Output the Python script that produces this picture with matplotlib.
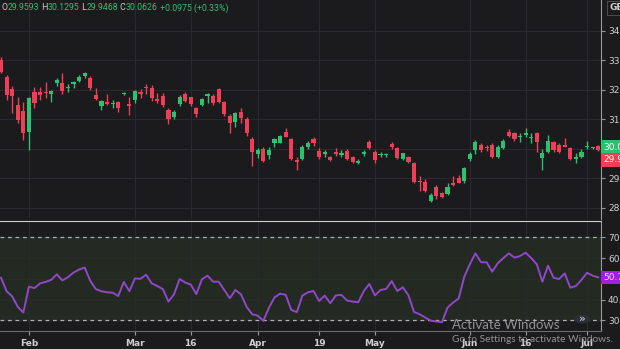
import matplotlib.pyplot as plt
from matplotlib.patches import Circle

BG = "#1b1b1e"
GRID = "#2a2a2e"
UP = "#2fbf71"
DOWN = "#ef3e55"
TXT = "#cfcfcf"

opens = [33.02, 32.44, 32.03, 31.49, 31.28, 30.57, 31.93, 31.93, 31.93, 31.86,
         32.23, 32.23, 32.06, 32.20, 32.30, 32.47, 32.40, 31.83, 31.45, 31.59,
         31.52, 31.59, 31.86, 31.52, 31.66, 31.93, 32.10, 32.06, 31.69, 31.79,
         31.32, 31.08, 31.52, 31.86, 31.76, 31.39, 31.49, 31.79, 31.79, 32.03,
         31.59, 31.11, 30.91, 31.25, 31.01, 30.33, 29.82, 29.99, 29.79, 30.20,
         30.20, 30.57, 30.33, 29.62, 29.65, 30.06, 30.33, 29.93, 29.82, 29.72,
         29.89, 29.79, 29.93, 29.72, 29.52, 29.82, 30.23, 29.89, 29.79, 29.79,
         30.16, 30.03, 29.65, 29.72, 29.52, 28.92, 28.87, 28.23, 28.70, 28.50,
         28.47, 28.84, 29.01, 28.91, 29.65, 29.96, 30.13, 30.06, 30.13, 29.72,
         30.03, 30.57, 30.54, 30.40, 30.47, 30.37, 30.54, 29.69, 29.89, 30.23,
         30.13, 30.13, 30.03, 29.65, 29.72, 30.06, 30.03, 30.09]
highs = [33.10, 32.51, 32.13, 31.76, 31.59, 31.76, 32.10, 32.10, 32.27, 32.00,
         32.40, 32.57, 32.20, 32.30, 32.51, 32.61, 32.47, 32.06, 31.66, 31.86,
         31.66, 31.62, 31.93, 31.76, 32.00, 32.03, 32.20, 32.17, 31.89, 31.89,
         31.39, 31.32, 31.83, 31.93, 31.76, 31.42, 31.72, 31.89, 31.86, 32.06,
         31.62, 31.18, 31.25, 31.39, 31.08, 30.40, 30.03, 30.06, 30.06, 30.37,
         30.47, 30.71, 30.37, 29.72, 30.13, 30.26, 30.40, 30.03, 29.96, 29.76,
         30.03, 29.96, 29.99, 29.76, 29.65, 29.96, 30.30, 29.96, 29.89, 29.86,
         30.23, 30.06, 29.86, 29.76, 29.55, 29.08, 28.97, 28.50, 28.77, 28.53,
         28.84, 29.08, 29.11, 29.38, 29.89, 30.30, 30.20, 30.13, 30.20, 30.13,
         30.33, 30.67, 30.57, 30.54, 30.71, 30.54, 30.57, 29.99, 30.47, 30.26,
         30.20, 30.37, 30.06, 29.86, 29.99, 30.26, 30.06, 30.13]
lows = [32.57, 31.66, 31.22, 30.88, 30.30, 29.96, 31.39, 31.66, 31.72, 31.59,
        32.13, 31.86, 31.93, 32.06, 32.27, 32.40, 32.00, 31.66, 31.32, 31.49,
        31.39, 31.25, 31.83, 31.15, 31.56, 31.72, 31.86, 31.62, 31.56, 31.42,
        30.84, 31.01, 31.45, 31.59, 31.45, 31.08, 31.45, 31.56, 31.49, 31.56,
        31.11, 30.54, 30.74, 30.88, 30.43, 29.42, 29.69, 29.55, 29.65, 30.06,
        30.20, 30.40, 29.62, 29.28, 29.62, 29.99, 30.09, 29.65, 29.72, 29.59,
        29.76, 29.72, 29.62, 29.52, 29.48, 29.76, 29.99, 29.52, 29.72, 29.72,
        29.99, 29.65, 29.62, 29.52, 28.84, 28.57, 28.53, 28.19, 28.30, 28.33,
        28.43, 28.74, 28.84, 28.84, 29.59, 29.82, 29.89, 29.93, 29.69, 29.69,
        29.99, 30.40, 30.26, 30.23, 30.40, 30.20, 29.89, 29.28, 29.86, 29.89,
        29.86, 30.06, 29.62, 29.52, 29.69, 29.99, 29.99, 29.93]
closes = [32.61, 31.83, 31.79, 30.98, 30.54, 31.72, 31.56, 31.83, 31.88, 31.96,
          32.34, 31.96, 32.10, 32.27, 32.44, 32.57, 32.06, 31.69, 31.62, 31.52,
          31.56, 31.39, 31.89, 31.45, 31.96, 31.86, 32.06, 31.72, 31.62, 31.49,
          31.01, 31.25, 31.76, 31.62, 31.52, 31.18, 31.69, 31.86, 31.56, 31.59,
          31.18, 30.88, 31.22, 31.05, 30.54, 29.89, 29.96, 29.59, 29.96, 30.33,
          30.43, 30.40, 29.65, 29.55, 30.06, 30.20, 30.20, 29.72, 29.89, 29.62,
          29.82, 29.86, 29.65, 29.55, 29.59, 29.89, 30.03, 29.62, 29.82, 29.80,
          30.06, 29.69, 29.86, 29.55, 28.87, 28.87, 28.57, 28.43, 28.40, 28.36,
          28.70, 28.77, 28.84, 29.35, 29.82, 30.23, 29.96, 30.03, 29.72, 30.06,
          30.26, 30.43, 30.33, 30.43, 30.54, 30.40, 30.23, 29.86, 30.26, 29.96,
          29.89, 30.06, 29.65, 29.72, 29.89, 30.09, 30.06, 29.96]
rsi = [50.5, 44.0, 41.5, 36.5, 33.7, 46.2, 45.5, 47.8, 48.5, 49.5,
       52.2, 49.2, 50.8, 53.0, 54.5, 55.4, 49.0, 45.0, 44.0, 43.5,
       43.3, 41.7, 48.5, 44.0, 50.2, 50.0, 52.0, 47.8, 46.5, 45.0,
       39.0, 42.5, 49.9, 48.2, 47.2, 42.6, 49.8, 51.5, 48.6, 48.6,
       44.6, 40.6, 44.6, 42.5, 36.5, 32.9, 32.2, 29.7, 36.0, 41.0,
       42.8, 42.3, 35.0, 33.9, 41.9, 43.5, 44.1, 39.3, 41.9, 38.2,
       42.0, 42.2, 39.5, 39.0, 38.7, 44.1, 47.5, 42.0, 44.6, 45.1,
       48.9, 44.1, 45.9, 42.0, 34.0, 32.9, 31.3, 29.8, 29.4, 29.0,
       36.1, 38.5, 40.5, 51.0, 57.0, 62.3, 58.0, 58.0, 53.4, 57.5,
       60.0, 62.3, 60.2, 61.0, 62.6, 60.0, 57.0, 48.6, 56.3, 50.5,
       49.9, 52.6, 45.7, 46.5, 49.5, 52.9, 51.5, 50.7]

tick_idx = [5, 24, 34, 46, 57, 67, 84, 94, 105]
tick_labels = ["Feb", "Mar", "16", "Apr", "19", "May", "Jun", "16", "Jul"]
price_ticks = [28.0, 29.0, 30.0, 31.0, 32.0, 33.0, 34.0]
rsi_ticks = [30.0, 40.0, 50.0, 60.0, 70.0]

header = [("O", TXT), ("29.9593", UP), (" H", TXT), ("30.1295", UP),
          (" L", TXT), ("29.9468", UP), (" C", TXT), ("30.0626", UP),
          (" +0.0975 (+0.33%)", UP)]

fig = plt.figure(figsize=(6.2, 3.49), dpi=100, facecolor=BG)
ax = fig.add_axes([0, 130 / 349, 601 / 620, 219 / 349], facecolor=BG)
ax2 = fig.add_axes([0, 18 / 349, 601 / 620, 110 / 349], facecolor=BG, sharex=ax)

n = len(opens)
for i in range(n):
    o, h, l, c = opens[i], highs[i], lows[i], closes[i]
    col = UP if c >= o else DOWN
    ax.vlines(i, l, h, color=col, lw=1, zorder=3)
    ax.bar(i, max(abs(c - o), 0.025), bottom=min(o, c), width=0.74,
           color=col, zorder=4)

ax.set_xlim(-0.18, 107.5)
ax.set_ylim(27.62, 35.05)

# RSI pane
ax2.axhspan(30, 70, color="#232a21", zorder=0)
ax2.plot(range(n), rsi, color="#9047c8", lw=1.4, zorder=3)
ax2.set_ylim(24.8, 77.9)

for a in (ax, ax2):
    a.yaxis.tick_right()
    a.grid(True, color=GRID, lw=0.8)
    a.set_axisbelow(True)
    for s in ("left", "top", "bottom"):
        a.spines[s].set_visible(False)
    a.spines["right"].set_color("#9a9a9a")
    a.tick_params(axis="y", colors="#9a9a9a", labelcolor=TXT, labelsize=6.5,
                  length=3, pad=2)

ax2.axhline(70, color="#b0b0b0", lw=0.9, dashes=(3, 3), zorder=2)
ax2.axhline(30, color="#b0b0b0", lw=0.9, dashes=(3, 3), zorder=2)

ax.set_yticks(price_ticks)
ax.set_yticklabels([f"{v:.1f}" for v in price_ticks])
ax2.set_yticks(rsi_ticks)
ax2.set_yticklabels([f"{v:.1f}" for v in rsi_ticks])

ax.tick_params(axis="x", bottom=False, labelbottom=False)
ax2.set_xticks(tick_idx)
ax2.set_xticklabels(tick_labels, fontweight="bold")
ax2.tick_params(axis="x", colors="#9a9a9a", labelcolor=TXT, labelsize=6.5,
                length=3, pad=3)
ax2.spines["top"].set_visible(True)
ax2.spines["top"].set_color("#d0d0d0")
ax2.spines["bottom"].set_visible(True)
ax2.spines["bottom"].set_color("#6a6a6a")

# last value tags on the right axis
ax.text(1.004, 1 - 147 / 219, "30.06", transform=ax.transAxes,
        fontsize=6.5, color="white", va="center", ha="left",
        bbox=dict(boxstyle="square,pad=0.25", fc=UP, ec="none"), clip_on=False)
ax.text(1.004, 1 - 160 / 219, "29.95", transform=ax.transAxes,
        fontsize=6.5, color="white", va="center", ha="left",
        bbox=dict(boxstyle="square,pad=0.25", fc=DOWN, ec="none"), clip_on=False)
ax2.text(1.004, (rsi[-1] - 24.8) / (77.9 - 24.8), f"{rsi[-1]:.1f}",
         transform=ax2.transAxes, fontsize=6.5, color="#f3d9ff", va="center",
         ha="left", bbox=dict(boxstyle="square,pad=0.25", fc="#a21ee0", ec="none"),
         clip_on=False)

# header line
renderer = fig.canvas.get_renderer()
x = 2 / 620
for s, col in header:
    t = fig.text(x, 1 - 8 / 349, s, color=col, fontsize=6.3, family="Roboto",
                 va="center", ha="left")
    bb = t.get_window_extent(renderer=renderer)
    x += bb.width / 620
fig.text(610 / 620, 1 - 8 / 349, "GE", color=TXT, fontsize=6.5, va="center",
         ha="left", fontweight="bold",
         bbox=dict(boxstyle="square,pad=0.3", fc=BG, ec="#555555", lw=0.6))

# windows watermark
fig.text(452 / 620, 1 - 325 / 349, "Activate Windows", color="#a8a8a8",
         fontsize=9.5, family="Lato", va="center", ha="left", alpha=0.85)
fig.text(452 / 620, 1 - 340 / 349, "Go to Settings to activate Windows.",
         color="#a8a8a8", fontsize=7.3, family="Lato", va="center", ha="left",
         alpha=0.85)
btn = Circle((582 / 620, 1 - 319 / 349), 0.013, transform=fig.transFigure,
             fc="#2b2f3a", ec="none")
fig.patches.append(btn)
fig.text(582 / 620, 1 - 319 / 349, "»", color="#dddddd", fontsize=8,
         va="center", ha="center")

fig.savefig("out.png", dpi=100, facecolor=BG)
